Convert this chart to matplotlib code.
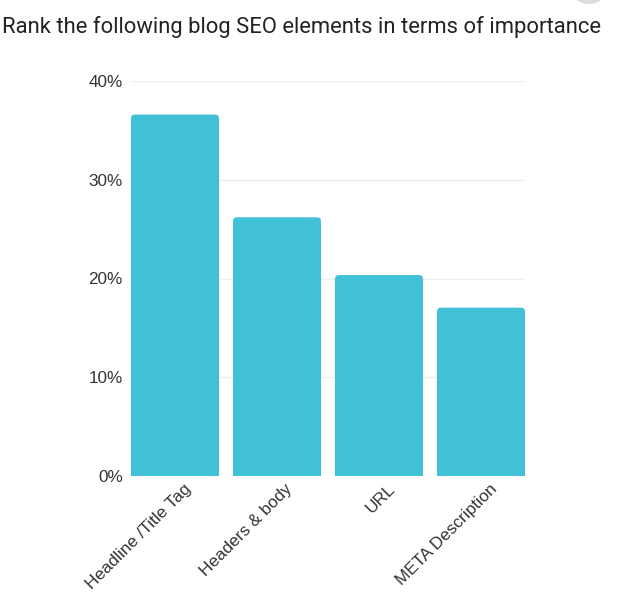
import matplotlib
matplotlib.use("Agg")
import matplotlib.pyplot as plt
import matplotlib.transforms as mtransforms
from matplotlib.patches import FancyBboxPatch, Circle

TITLE = "Rank the following blog SEO elements in terms of importance"
categories = ["Headline /Title Tag", "Headers & body", "URL", "META Description"]
values = [36.6, 26.2, 20.35, 17.05]
y_ticks = [0, 10, 20, 30, 40]
y_tick_labels = ["0%", "10%", "20%", "30%", "40%"]

BAR_COLOR = "#40C1D6"
GRID_COLOR = "#EEEEEE"
TEXT_COLOR = "#333333"
BAR_WIDTH = 0.863

W, H = 621, 594
fig = plt.figure(figsize=(W / 100, H / 100), dpi=100)
fig.patch.set_facecolor("white")

ax_left, ax_right, ax_top, ax_bottom = 131, 525, 81, 476
ax = fig.add_axes([ax_left / W, 1 - ax_bottom / H,
                   (ax_right - ax_left) / W, (ax_bottom - ax_top) / H])

x = list(range(len(categories)))
bars = ax.bar(x, values, width=BAR_WIDTH, color=BAR_COLOR, zorder=2)
ax.set_xlim(-BAR_WIDTH / 2, len(categories) - 1 + BAR_WIDTH / 2)
ax.set_ylim(0, 40)

# swap plain bars for ones with rounded top corners
x_per_px = (ax.get_xlim()[1] - ax.get_xlim()[0]) / (ax_right - ax_left)
y_per_px = 40 / (ax_bottom - ax_top)
r = 4 * x_per_px
for b in bars:
    b.set_visible(False)
    p = FancyBboxPatch((b.get_x(), -2), b.get_width(), b.get_height() + 2,
                       boxstyle=f"round,pad=0,rounding_size={r}",
                       mutation_aspect=y_per_px / x_per_px,
                       facecolor=BAR_COLOR, edgecolor="none", zorder=2)
    ax.add_patch(p)
    p.set_clip_path(ax.patch)

ax.set_yticks(y_ticks)
ax.set_yticklabels(y_tick_labels, family="Liberation Sans", fontsize=12.3,
                   color=TEXT_COLOR)
ax.yaxis.grid(True, color=GRID_COLOR, linewidth=1, zorder=0)
ax.set_axisbelow(True)
ax.tick_params(axis="y", length=0, pad=6)
ax.tick_params(axis="x", length=0, pad=4)

ax.set_xticks(x)
ax.set_xticklabels(categories, rotation=45, ha="right", va="top",
                   rotation_mode="anchor", family="Liberation Sans",
                   fontsize=12.3, color=TEXT_COLOR)
offset = mtransforms.ScaledTranslation(8 / 100, 0, fig.dpi_scale_trans)
for lbl in ax.get_xticklabels():
    lbl.set_transform(lbl.get_transform() + offset)

for s in ax.spines.values():
    s.set_visible(False)

fig.text(2 / W, 1 - 27 / H, TITLE, family="Roboto", fontsize=15.8,
         color="#222222", ha="left", va="center")

# partially visible grey button in the top-right corner
fig.patches.append(Circle((589 / W, 1 + 14 / H), 19 / W, transform=fig.transFigure,
                          facecolor="#DDDDDD", edgecolor="none"))

fig.savefig("out.png", dpi=100)
